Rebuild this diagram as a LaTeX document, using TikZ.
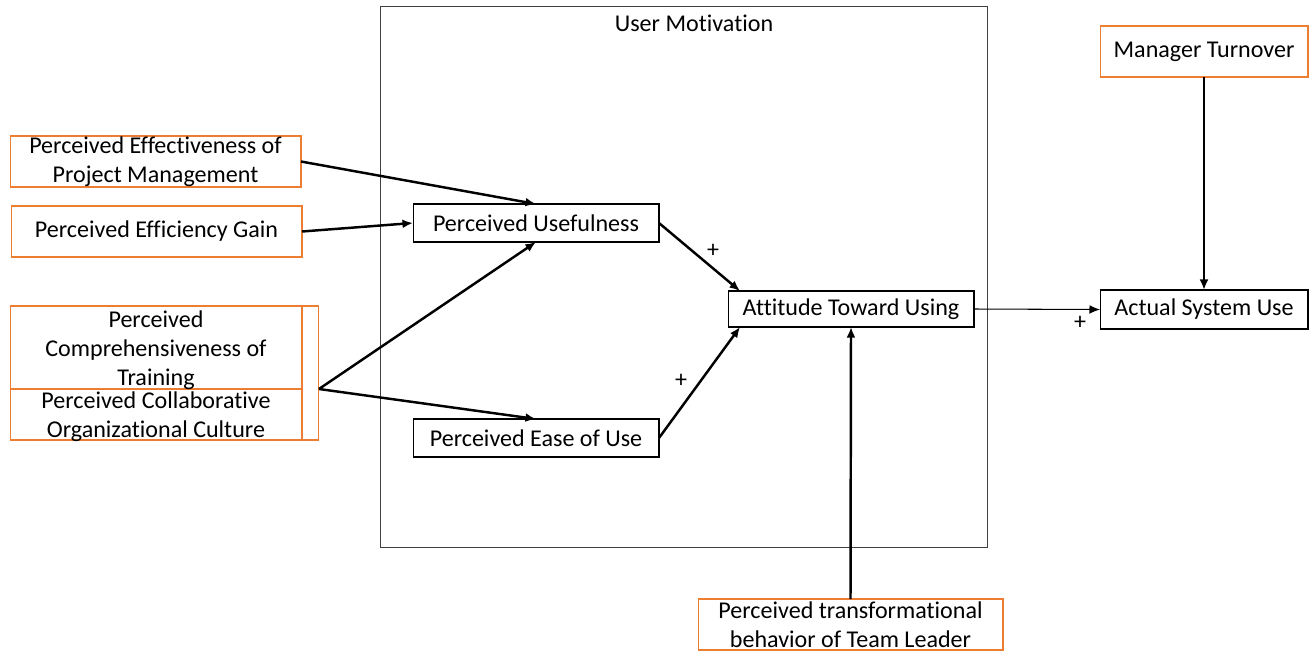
\documentclass[tikz,border=0pt]{standalone}
\usepackage{fontspec}
\setmainfont{Carlito}[Ligatures=NoCommon]
\usetikzlibrary{arrows.meta,calc}
\definecolor{offorange}{RGB}{237,125,49}
\definecolor{boxgray}{RGB}{64,64,64}
\begin{document}
\begin{tikzpicture}[x=0.02cm,y=-0.02cm,
  every node/.style={font=\fontsize{13.7}{16.4}\selectfont, inner sep=0pt, outer sep=0pt},
  obox/.style={draw=offorange, line width=0.6pt, align=center},
  kbox/.style={draw=black, line width=0.6pt, align=center},
  thickarrow/.style={line width=1.4pt, -{Latex[length=6pt,width=5pt]}},
  thinarrow/.style={line width=0.6pt, -{Latex[length=6pt,width=5pt]}},
  plus/.style={font=\fontsize{13.7}{16.4}\selectfont}]
\useasboundingbox (0,0) rectangle (1312,650);

% big group box
\node[draw=boxgray, line width=0.6pt, minimum width=12.16cm, minimum height=10.84cm] (um) at (684,277) {};
\node (umt) at (694,23) {User Motivation};

% left orange boxes
\node[obox, minimum width=5.82cm, minimum height=1.02cm] (pepm) at (155.5,161.5) {Perceived Effectiveness of\\Project Management};
\node[obox, minimum width=5.82cm, minimum height=1.02cm] (peg) at (156.5,231.5) {Perceived Efficiency Gain};
\node[obox, minimum width=6.18cm, minimum height=2.68cm] (grp) at (164.5,373) {};
\node[obox, minimum width=5.84cm, minimum height=1.66cm] (comp) at (156,347.5) {};
\node[obox, minimum width=5.84cm, minimum height=1.02cm] (coll) at (156,414.5) {};
\node[align=center] (compt) at (156,350) {Perceived\\Comprehensiveness of\\Training};
\node[align=center] (collt) at (156,417) {Perceived Collaborative\\Organizational Culture};

% inner boxes
\node[kbox, minimum width=4.92cm, minimum height=0.76cm] (pu) at (536,223) {Perceived Usefulness};
\node[kbox, minimum width=4.92cm, minimum height=0.76cm] (peou) at (536,438) {Perceived Ease of Use};
\node[kbox, minimum width=4.92cm, minimum height=0.72cm] (atu) at (851,309) {Attitude Toward Using};

% right boxes
\node[kbox, minimum width=4.16cm, minimum height=0.78cm] (asu) at (1204,309.5) {Actual System Use};
\node[obox, minimum width=4.16cm, minimum height=1.02cm] (mt) at (1204,51.5) {Manager Turnover};
\node[obox, minimum width=6.1cm, minimum height=1.02cm] (ptb) at (850.5,624.5) {Perceived transformational\\behavior of Team Leader};

% connectors
\coordinate (gsrc) at (grp.east |- comp.south);
\draw[thickarrow] (pepm.east) -- (pu.north);
\draw[thickarrow] (peg.east) -- (pu.west);
\draw[thickarrow] (gsrc) -- (pu.south);
\draw[thickarrow] (gsrc) -- (peou.north);
\draw[thickarrow] (pu.east) -- ($(atu.north west)+(12,0)$);
\draw[thickarrow] (peou.east) -- ($(atu.south west)+(12,0)$);
\draw[thinarrow] (atu.east) -- (asu.west);
\draw[thickarrow] (mt.south) -- (asu.north);
\draw[thickarrow] (ptb.north) -- (atu.south);

% labels
\node[plus] (p1) at (713,251) {+};
\node[plus] (p2) at (681,381) {+};
\node[plus] (p3) at (1080,323) {+};
\end{tikzpicture}
\end{document}
